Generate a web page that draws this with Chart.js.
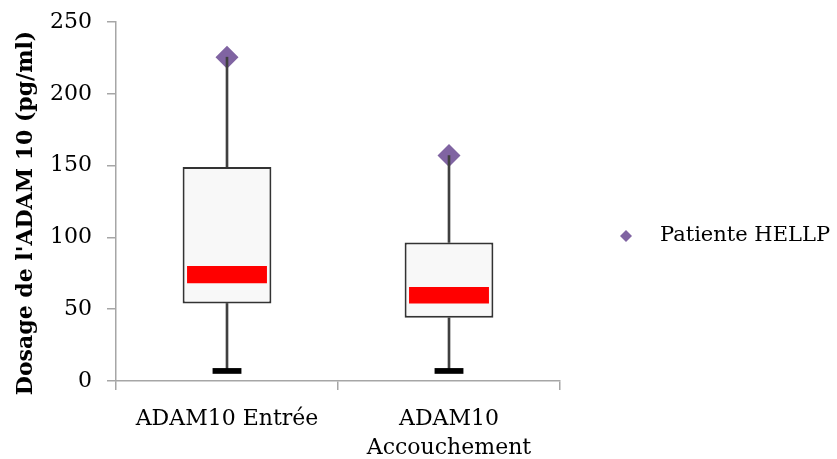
<!DOCTYPE html>
<html>
<head>
<meta charset="utf-8">
<script src="https://cdn.jsdelivr.net/npm/chart.js@4"></script>
<style>
  html, body { margin: 0; padding: 0; background: #fff; }
  #wrap { width: 837px; height: 459px; }
</style>
</head>
<body>
<div id="wrap"><canvas id="boxChart" width="837" height="459"></canvas></div>
<script>
// values
const categories = ['ADAM10 Entrée', ['ADAM10', 'Accouchement']];
const q1 = [54, 44];
const q3 = [149, 96.5];
const medianLow = [68, 54];
const medianHigh = [80, 65.5];
const whiskerMin = [7, 7];
const whiskerMax = [225.5, 157];
const capLow = [5, 5];
const capHigh = [9, 9];
const hellp = [225.5, 157];
const yTicks = [0, 50, 100, 150, 200, 250];

const pairs = (a, b) => a.map((v, i) => [v, b[i]]);
const axisColor = '#a6a6a6';
const serif = 'DejaVu Serif';

// legend on the right, drawn by hand so it sits where Excel put it
const sideLegend = {
  id: 'sideLegend',
  afterDraw(chart) {
    const ds = chart.data.datasets[0];
    const c = chart.ctx;
    const x = 626, y = 236, r = 6;
    c.save();
    c.fillStyle = ds.backgroundColor;
    c.beginPath();
    c.moveTo(x, y - r);
    c.lineTo(x + r, y);
    c.lineTo(x, y + r);
    c.lineTo(x - r, y);
    c.closePath();
    c.fill();
    c.fillStyle = '#000';
    c.font = '21px "' + serif + '"';
    c.textBaseline = 'middle';
    c.fillText(ds.label, 660, y);
    c.restore();
  }
};

document.addEventListener('DOMContentLoaded', function () {
  const ctx = document.getElementById('boxChart').getContext('2d');

  const floating = (label, data, color, pct, extra) => Object.assign({
    type: 'bar',
    label: label,
    data: data,
    backgroundColor: color,
    grouped: false,
    barPercentage: pct,
    categoryPercentage: 1,
    borderSkipped: false
  }, extra || {});

  new Chart(ctx, {
    data: {
      labels: categories,
      datasets: [
        {
          type: 'line',
          label: 'Patiente HELLP',
          data: hellp,
          showLine: false,
          pointStyle: 'rectRot',
          pointRadius: 11.5,
          pointHoverRadius: 11.5,
          backgroundColor: '#8064a2',
          borderColor: '#8064a2',
          borderWidth: 0,
          order: 5
        },
        floating('upper', pairs(q3, whiskerMax), '#404040', 1, { barThickness: 2, order: 4 }),
        floating('lower', pairs(whiskerMin, q1), '#404040', 1, { barThickness: 2, order: 4 }),
        floating('box', pairs(q1, q3), '#f8f8f8', 0.4, { borderColor: '#333', borderWidth: 2, order: 3 }),
        floating('median', pairs(medianLow, medianHigh), '#ff0000', 0.36, { order: 2 }),
        floating('min', pairs(capLow, capHigh), '#000000', 0.13, { order: 1 })
      ]
    },
    options: {
      responsive: false,
      animation: false,
      layout: { padding: { top: 22, left: 0, right: 277, bottom: 0 } },
      plugins: {
        tooltip: { enabled: false },
        legend: { display: false }
      },
      scales: {
        x: {
          type: 'category',
          offset: true,
          border: { color: axisColor, width: 1.5 },
          grid: { display: true, offset: true, drawOnChartArea: false, color: axisColor, tickLength: 9, lineWidth: 1.5 },
          ticks: { color: '#000', padding: 15, maxRotation: 0, font: { family: serif, size: 22, lineHeight: 1.3 } },
          afterFit: s => { s.height = 78; }
        },
        y: {
          min: 0,
          max: 250,
          afterBuildTicks: s => { s.ticks = yTicks.map(v => ({ value: v })); },
          border: { color: axisColor, width: 1.5 },
          grid: { display: true, drawOnChartArea: false, color: axisColor, tickLength: 9, lineWidth: 1.5 },
          ticks: { color: '#000', padding: 15, font: { family: serif, size: 22 } },
          title: {
            display: true,
            text: "Dosage de l'ADAM 10 (pg/ml)   ",
            color: '#000',
            padding: { top: 13, bottom: 4 },
            font: { family: serif, size: 22, weight: 'bold' }
          },
          afterFit: s => { s.width = 116; s.paddingTop = 0; }
        }
      }
    },
    plugins: [sideLegend]
  });
});
</script>
</body>
</html>
